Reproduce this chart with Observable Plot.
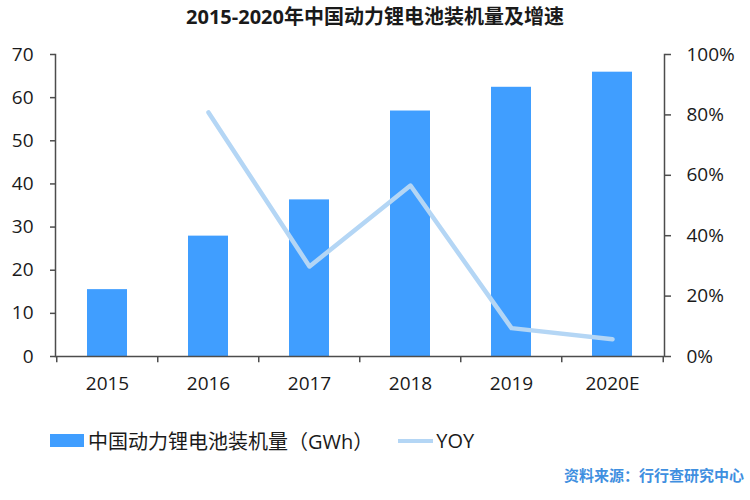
<!DOCTYPE html>
<html>
<head>
<meta charset="utf-8">
<script src="https://cdn.jsdelivr.net/npm/d3@7"></script>
<script src="https://cdn.jsdelivr.net/npm/@observablehq/plot@0.6"></script>
<style>
  html, body { margin: 0; padding: 0; background: #fff; }
  body { width: 750px; height: 500px; position: relative; overflow: hidden;
         font-family: "Open Sans", "Noto Sans CJK SC", sans-serif; color: #1a1a1a; }
  #title { position: absolute; top: 0; left: 0; width: 750px; height: 36px; line-height: 34px;
           text-align: center; font-weight: bold; font-size: 20px; }
  #chart { position: absolute; top: 36px; left: 0; }
  #legend { position: absolute; top: 426px; left: 50px; display: flex; align-items: center;
            font-size: 20px; white-space: nowrap; }
  .sw-bar { width: 34px; height: 13px; background: #409eff; margin-right: 4px; }
  .sw-line { width: 35px; height: 4px; background: #b4d6f5; margin-left: 25px; margin-right: 3px; }
  #source { position: absolute; top: 464px; right: 6px; font-size: 15px; font-weight: bold; color: #3f8fe0; }
</style>
</head>
<body>
<div id="title">2015-2020年中国动力锂电池装机量及增速</div>
<div id="chart"></div>
<div id="legend"><div class="sw-bar"></div><span>中国动力锂电池装机量（GWh）</span><div class="sw-line"></div><span>YOY</span></div>
<div id="source">资料来源：行行查研究中心</div>
<script>
const years = ["2015", "2016", "2017", "2018", "2019", "2020E"];
const capacity = [15.5, 27.9, 36.3, 56.9, 62.4, 65.9];
const yoyYears = ["2016", "2017", "2018", "2019", "2020E"];
const yoy = [80.8, 29.8, 56.6, 9.4, 5.7];
const leftTicks = [0, 10, 20, 30, 40, 50, 60, 70];
const rightTicks = [0, 20, 40, 60, 80, 100];

const toY = d3.scaleLinear([0, 100], [0, 70]);
const bars = years.map((y, i) => ({year: y, value: capacity[i]}));
const line = yoyYears.map((y, i) => ({year: y, pct: yoy[i]}));

const axisColor = "#4d4d4d";
const W = 750, H = 374;
const step = (W - 55 - 86) / years.length;

const chart = Plot.plot({
  width: W,
  height: H,
  marginTop: 18,
  marginBottom: 54,
  marginLeft: 55,
  marginRight: 86,
  style: {fontFamily: "'Open Sans', 'Noto Sans CJK SC', sans-serif", fontSize: "19px", color: "#1a1a1a", background: "#fff"},
  x: {domain: years, paddingInner: 0.6, paddingOuter: 0.3, axis: null},
  y: {domain: [0, 70], axis: null},
  marks: [
    Plot.barY(bars, {x: "year", y: "value", fill: "#409eff"}),
    Plot.line(line, {x: "year", y: d => toY(d.pct), stroke: "#b4d6f5", strokeWidth: 4.5}),
    Plot.ruleY([0], {stroke: axisColor, strokeWidth: 1.5}),
    Plot.frame({anchor: "left", stroke: axisColor, strokeWidth: 1.5}),
    Plot.frame({anchor: "right", stroke: axisColor, strokeWidth: 1.5}),
    Plot.ruleX(years, {x: d => d, dx: -step / 2, y1: 0, y2: -1.45, stroke: axisColor, strokeWidth: 1.5}),
    Plot.ruleX([years[years.length - 1]], {x: d => d, dx: step / 2, y1: 0, y2: -1.45, stroke: axisColor, strokeWidth: 1.5}),
    Plot.axisX({tickSize: 0, tickPadding: 20, fontSize: 19, label: null}),
    Plot.axisY({anchor: "left", ticks: leftTicks, tickSize: 5, tickPadding: 17, stroke: axisColor, strokeWidth: 1.5, fontSize: 19, label: null}),
    Plot.axisY({anchor: "right", ticks: rightTicks.map(v => toY(v)), tickFormat: d => Math.round(toY.invert(d)) + "%",
                tickSize: 6, tickPadding: 16, stroke: axisColor, strokeWidth: 1.5, fontSize: 19, label: null})
  ]
});
document.getElementById("chart").appendChild(chart);
</script>
</body>
</html>
